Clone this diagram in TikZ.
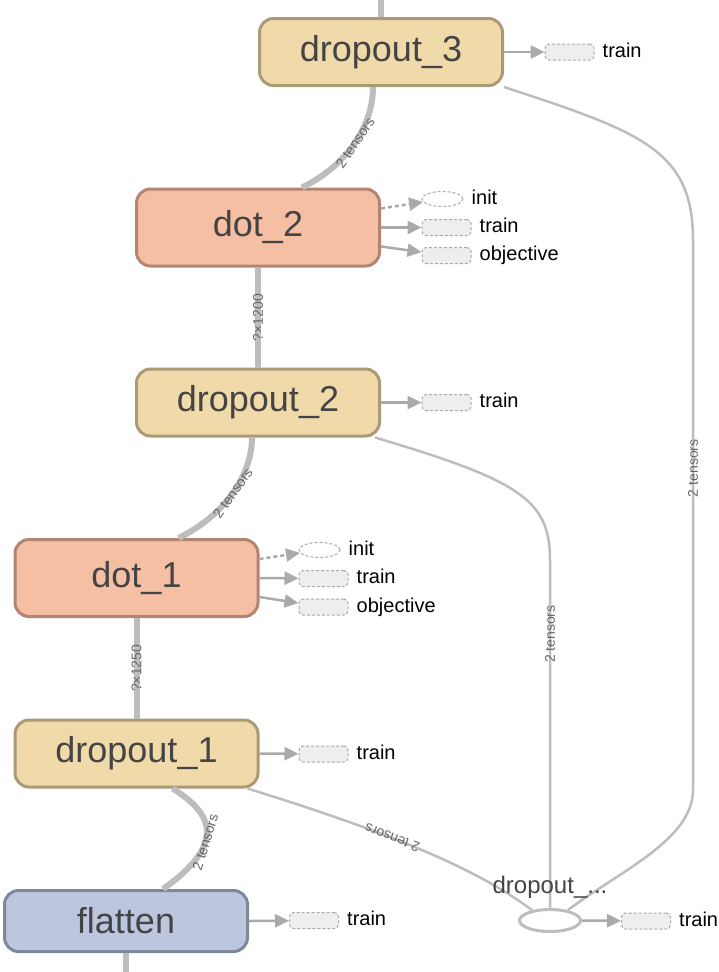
\documentclass[tikz,border=0pt]{standalone}
\usepackage{fontspec}
\setmainfont{Liberation Sans}
\usepackage{tikz}
\usetikzlibrary{positioning,shapes.geometric,arrows.meta}
\definecolor{dropfill}{HTML}{F0DAAA}
\definecolor{dropline}{HTML}{AA9A75}
\definecolor{dotfill}{HTML}{F4BFA3}
\definecolor{dotline}{HTML}{B38570}
\definecolor{flatfill}{HTML}{BCC6DE}
\definecolor{flatline}{HTML}{7F8899}
\definecolor{optext}{HTML}{444444}
\definecolor{edgegray}{HTML}{BDBDBD}
\definecolor{ctlgray}{HTML}{AAAAAA}
\definecolor{auxfill}{HTML}{EEEEEE}
\definecolor{lblgray}{HTML}{666666}

\begin{document}
\begin{tikzpicture}[x=1pt,y=-1pt,>={Triangle[length=14pt,width=13pt]},
  op/.style={draw,rectangle,rounded corners=14pt,line width=3pt,minimum width=243pt,text=optext,font=\fontsize{36}{36}\selectfont},
  dropop/.style={op,fill=dropfill,draw=dropline,minimum height=67pt},
  dotop/.style={op,fill=dotfill,draw=dotline,minimum height=77pt},
  flatop/.style={op,fill=flatfill,draw=flatline,minimum height=61pt},
  aux/.style={draw=ctlgray,dash pattern=on 3pt off 2pt,fill=auxfill,rounded corners=4pt,line width=1pt,minimum width=49pt,minimum height=16pt,inner sep=0pt},
  auxinit/.style={ellipse,draw=ctlgray,dash pattern=on 3pt off 2pt,line width=1pt,minimum width=41pt,minimum height=15pt,inner sep=0pt},
  auxlbl/.style={inner sep=0pt,font=\fontsize{20}{20}\selectfont,text height=14pt,text depth=4pt},
  ctl/.style={->,draw=ctlgray,line width=2.5pt},
  dataedge/.style={draw=edgegray,line width=6pt},
  thinedge/.style={draw=edgegray,line width=2.5pt},
  elbl/.style={sloped,allow upside down,text=lblgray,font=\fontsize{14}{14}\selectfont,inner sep=1pt}]
\useasboundingbox (0,0) rectangle (719,972);

% ops
\node[dropop] (drop3) at (381,52) {dropout\_3};
\node[dotop] (dot2) at (258,227.5) {dot\_2};
\node[dropop] (drop2) at (258,402.5) {dropout\_2};
\node[dotop] (dot1) at (136.5,578) {dot\_1};
\node[dropop] (drop1) at (136.5,753.5) {dropout\_1};
\node[flatop] (flat) at (126,921) {flatten};
\node[ellipse,draw=edgegray,line width=3pt,fill=white,minimum width=61pt,minimum height=22pt] (dropn) at (550,920.5) {};

% auxiliary nodes
\node[aux] (drop3tr) at (569.5,52) {};
\node[auxlbl,right=8pt of drop3tr] {train};
\node[auxinit] (dot2in) at (442.5,199) {};
\node[auxlbl,right=8pt of dot2in] {init};
\node[aux] (dot2tr) at (446.5,227.5) {};
\node[auxlbl,right=8pt of dot2tr] {train};
\node[aux] (dot2ob) at (446.5,255.5) {};
\node[auxlbl,right=8pt of dot2ob] {objective};
\node[aux] (drop2tr) at (446.5,402.5) {};
\node[auxlbl,right=8pt of drop2tr] {train};
\node[auxinit] (dot1in) at (319.5,550) {};
\node[auxlbl,right=8pt of dot1in] {init};
\node[aux] (dot1tr) at (323.5,578.5) {};
\node[auxlbl,right=8pt of dot1tr] {train};
\node[aux] (dot1ob) at (323.5,607) {};
\node[auxlbl,right=8pt of dot1ob] {objective};
\node[aux] (drop1tr) at (323.5,754) {};
\node[auxlbl,right=8pt of drop1tr] {train};
\node[aux] (flattr) at (314,920.5) {};
\node[auxlbl,right=8pt of flattr] {train};
\node[aux] (dropntr) at (646,921) {};
\node[auxlbl,right=8pt of dropntr] {train};

\draw[ctl] (drop3.east |- drop3tr) -- (drop3tr);
\draw[ctl,dash pattern=on 4pt off 3pt] ([yshift=19pt]dot2.east) -- (dot2in);
\draw[ctl] (dot2.east) -- (dot2tr);
\draw[ctl] ([yshift=-19pt]dot2.east) -- (dot2ob);
\draw[ctl] (drop2.east) -- (drop2tr);
\draw[ctl,dash pattern=on 4pt off 3pt] ([yshift=19pt]dot1.east) -- (dot1in);
\draw[ctl] (dot1.east) -- (dot1tr);
\draw[ctl] ([yshift=-19pt]dot1.east) -- (dot1ob);
\draw[ctl] (drop1.east) -- (drop1tr);
\draw[ctl] (flat.east) -- (flattr);
\draw[ctl] (dropn.east) -- (dropntr);

% data edges
\coordinate (topin) at (381,0);
\coordinate (botout) at (126,972);
\draw[dataedge] (drop3.north) -- (topin);
\draw[dataedge] ([xshift=44pt]dot2.north) .. controls +(47,-23) and +(0,37) .. ([xshift=-8pt]drop3.south) node[elbl,midway] {2 tensors};
\draw[dataedge] (drop2.north) -- (dot2.south) node[elbl,midway] {?×1200};
\draw[dataedge] ([xshift=42pt]dot1.north) .. controls +(47,-23) and +(0,37) .. ([xshift=-6pt]drop2.south) node[elbl,midway] {2 tensors};
\draw[dataedge] (drop1.north) -- (dot1.south) node[elbl,midway] {?×1250};
\draw[dataedge] ([xshift=37pt]flat.north) .. controls +(62,-44) and +(42.5,26) .. ([xshift=36pt]drop1.south) node[elbl,pos=0.4] {2 tensors};
\draw[dataedge] (flat.south) -- (botout);

% edges into dropout_...
\coordinate (rbot) at (693,790);
\coordinate (rtop) at (693,240);
\coordinate (mtop) at (550,560);
\draw[thinedge] (dropn.30) .. controls +(50,-38) and +(0,50) .. (rbot) -- node[elbl,pos=0.585] {2 tensors} (rtop) .. controls +(0,-90) and +(137,45) .. (drop3.south east);
\draw[thinedge] (dropn.north) -- node[elbl,pos=0.787] {2 tensors} (mtop) .. controls +(0,-60) and +(145,43) .. ([xshift=-6pt]drop2.south east);
\draw[thinedge] (dropn.150) .. controls +(-52,-39) and +(152,47) .. ([xshift=-12pt]drop1.south east) node[elbl,pos=0.62] {2 tensors};
\node[text=optext,inner sep=0pt,font=\fontsize{24}{24}\selectfont,above=9pt of dropn] (dropnlbl) {dropout\_...};
\end{tikzpicture}
\end{document}
